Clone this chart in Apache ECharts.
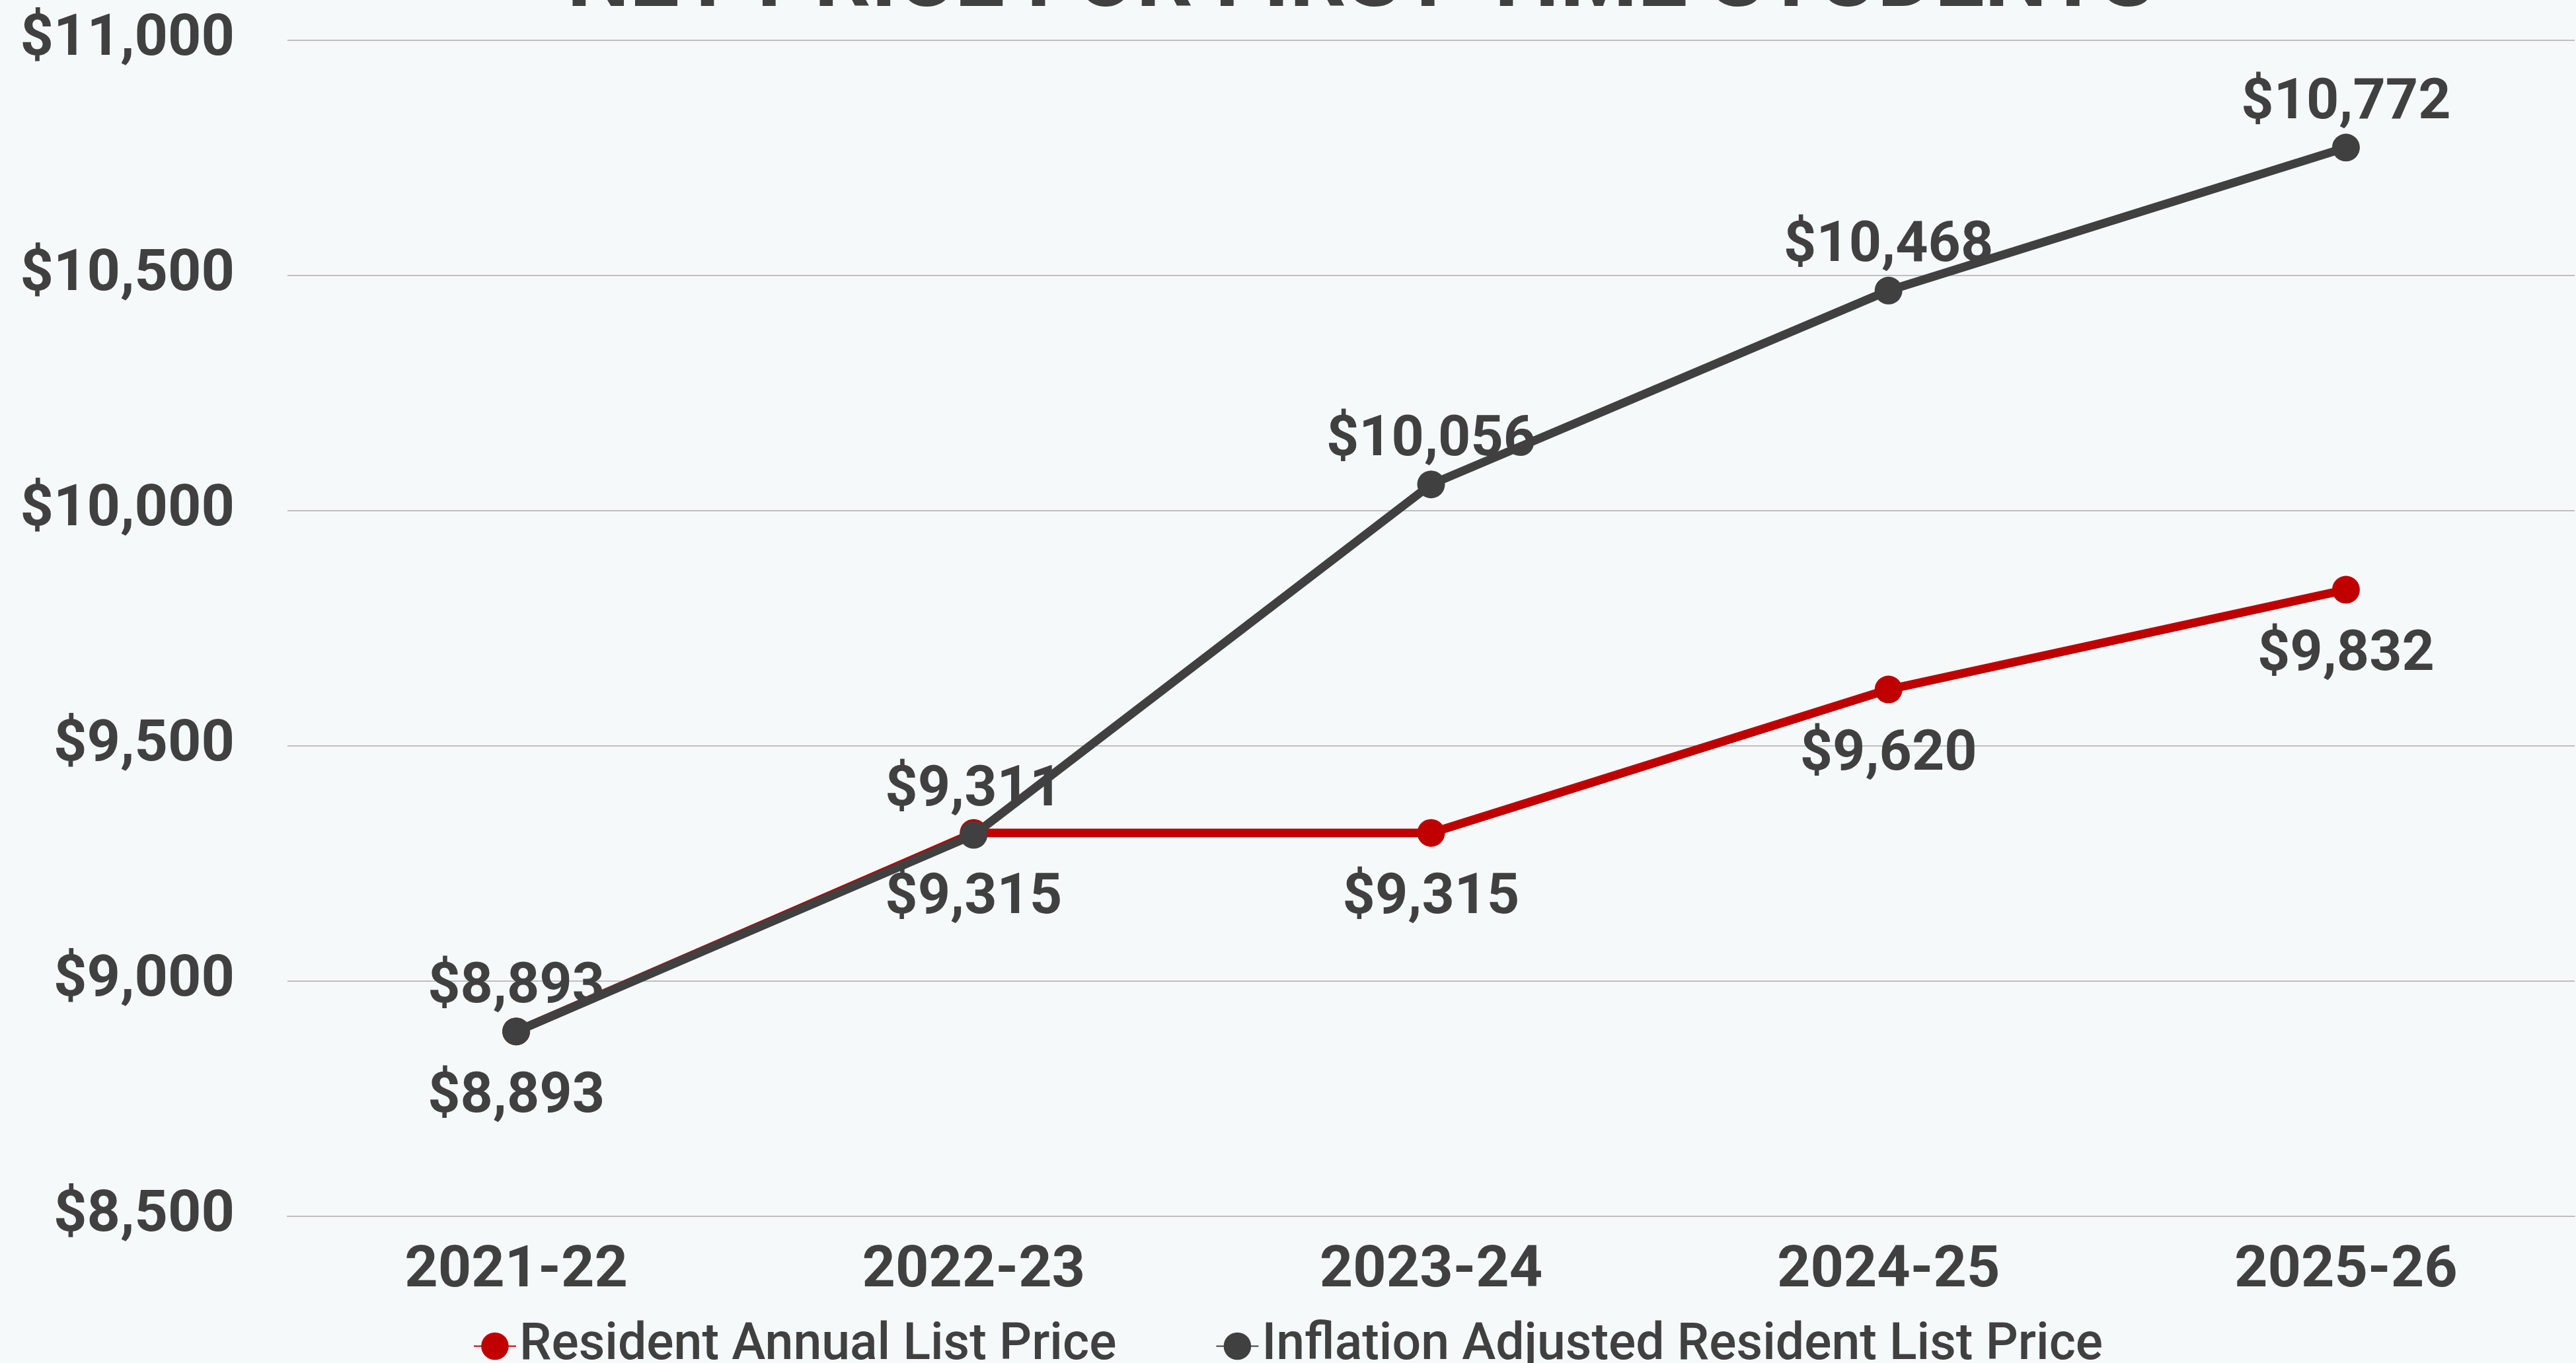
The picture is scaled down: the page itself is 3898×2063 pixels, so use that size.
<!DOCTYPE html>
<html>
<head>
    <meta charset="utf-8">
    <title>Net Price for First-Time Students</title>
    <style>
        html, body {
            margin: 0;
            padding: 0;
            background-color: #f5f9fa;
        }
        #chart {
            width: 3898px;
            height: 2063px;
        }
    </style>
</head>
<body>
    <div id="chart"></div>
    <script src="https://cdn.jsdelivr.net/npm/echarts@6/dist/echarts.min.js"></script>
    <script type="text/javascript">
        // data
        var years = ['2021-22', '2022-23', '2023-24', '2024-25', '2025-26'];
        var residentPrice = [8893, 9315, 9315, 9620, 9832];
        var inflationPrice = [8893, 9311, 10056, 10468, 10772];
        var yTicks = [8500, 9000, 9500, 10000, 10500, 11000];

        var textColor = '#404040';
        var fontName = 'Roboto';

        function money(v) {
            return '$' + v.toLocaleString('en-US');
        }

        var myChart = echarts.init(document.getElementById('chart'));

        var option = {
            backgroundColor: '#f5f9fa',
            animation: false,
            // title sits mostly above the top edge, only its lower part shows
            graphic: [{
                type: 'text',
                x: 858,
                y: 42,
                style: {
                    text: 'NET PRICE FOR FIRST-TIME STUDENTS',
                    fill: textColor,
                    font: 'bold 134px Roboto',
                    verticalAlign: 'bottom'
                }
            }],
            grid: {
                left: 435,
                right: 2,
                top: 61,
                bottom: 222
            },
            legend: {
                left: 'center',
                top: 1994,
                itemWidth: 64,
                itemHeight: 52,
                itemGap: 150,
                textStyle: {
                    color: textColor,
                    fontFamily: fontName,
                    fontSize: 77,
                    fontWeight: 500
                },
                data: ['Resident Annual List Price', 'Inflation Adjusted Resident List Price']
            },
            xAxis: {
                type: 'category',
                data: years,
                axisLine: { show: true, lineStyle: { color: '#bfbfbf', width: 2 } },
                axisTick: { show: false },
                axisLabel: {
                    color: textColor,
                    fontFamily: fontName,
                    fontWeight: 'bold',
                    fontSize: 88,
                    margin: 40
                }
            },
            yAxis: {
                type: 'value',
                min: yTicks[0],
                max: yTicks[yTicks.length - 1],
                interval: 500,
                axisLine: { show: false },
                axisTick: { show: false },
                splitLine: { lineStyle: { color: '#bfbfbf', width: 2 } },
                axisLabel: {
                    color: textColor,
                    fontFamily: fontName,
                    fontWeight: 'bold',
                    fontSize: 88,
                    margin: 80,
                    formatter: money
                }
            },
            series: [
                {
                    name: 'Resident Annual List Price',
                    type: 'line',
                    data: residentPrice,
                    symbol: 'circle',
                    symbolSize: 42,
                    itemStyle: { color: '#c00000' },
                    lineStyle: { color: '#c00000', width: 13 },
                    label: {
                        show: true,
                        position: 'bottom',
                        distance: 36,
                        color: textColor,
                        fontFamily: fontName,
                        fontWeight: 'bold',
                        fontSize: 86,
                        formatter: function (p) { return money(p.value); }
                    },
                    z: 2
                },
                {
                    name: 'Inflation Adjusted Resident List Price',
                    type: 'line',
                    data: inflationPrice,
                    symbol: 'circle',
                    symbolSize: 42,
                    itemStyle: { color: '#404040' },
                    lineStyle: { color: '#404040', width: 13 },
                    label: {
                        show: true,
                        position: 'top',
                        distance: 2,
                        color: textColor,
                        fontFamily: fontName,
                        fontWeight: 'bold',
                        fontSize: 86,
                        formatter: function (p) { return money(p.value); }
                    },
                    z: 3
                }
            ]
        };

        myChart.setOption(option);
    </script>
</body>
</html>
